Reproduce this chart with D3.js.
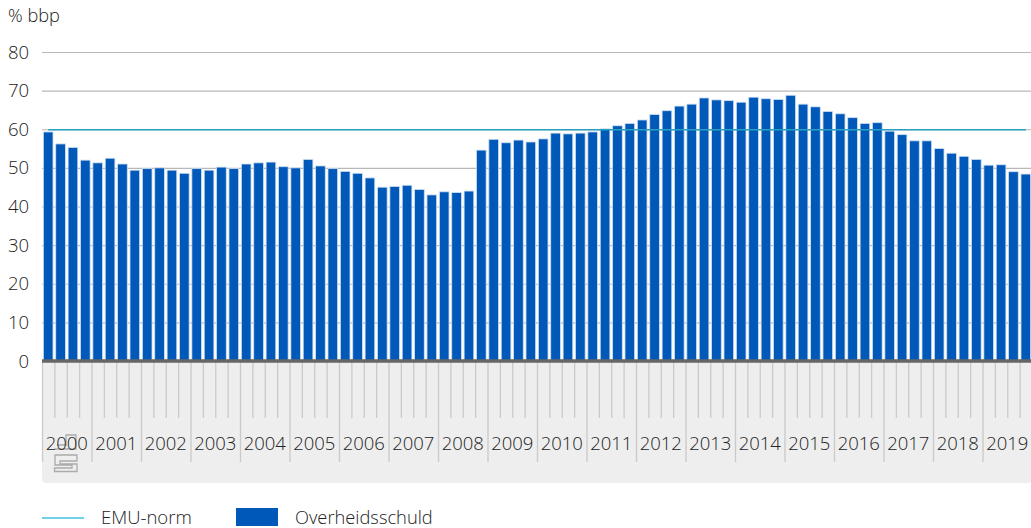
<!DOCTYPE html>
<html>
<head>
<meta charset="utf-8">
<script src="https://cdn.jsdelivr.net/npm/d3@7"></script>
<style>
  html, body { margin: 0; padding: 0; background: #fff; overflow: hidden; }
  svg { display: block; }
  text { font-family: "Open Sans", sans-serif; font-weight: 300; fill: #222; }
</style>
</head>
<body>
<svg id="chart" width="1031" height="528"></svg>
<script>
var years = ["2000","2001","2002","2003","2004","2005","2006","2007","2008","2009",
             "2010","2011","2012","2013","2014","2015","2016","2017","2018","2019"];
var quarters = ["K1","K2","K3","K4"];
var yTicks = [0,10,20,30,40,50,60,70,80];

// overheidsschuld per kwartaal, % bbp
var debt = [
  59.3,56.2,55.3,52.0,
  51.3,52.5,51.0,49.4,
  49.8,50.0,49.4,48.6,
  49.8,49.4,50.2,49.8,
  51.0,51.3,51.5,50.3,
  50.0,52.2,50.5,49.8,
  49.1,48.6,47.4,45.0,
  45.2,45.5,44.4,43.0,
  43.8,43.6,44.0,54.6,
  57.4,56.5,57.2,56.7,
  57.5,59.0,58.8,59.0,
  59.3,60.1,60.9,61.5,
  62.4,63.8,64.8,66.0,
  66.5,68.1,67.6,67.4,
  67.0,68.3,67.9,67.7,
  68.8,66.5,65.8,64.6,
  64.0,63.0,61.5,61.7,
  59.5,58.6,57.0,57.0,
  55.0,53.8,53.0,52.2,
  50.7,50.8,49.0,48.4
];
var emuNorm = 60;

var categories = years.flatMap(function(y) {
  return quarters.map(function(q) { return y + q; });
});

var svg = d3.select("#chart"),
    margin = {top: 52, right: -1, bottom: 167, left: 42},
    width = +svg.attr("width") - margin.left - margin.right,
    height = +svg.attr("height") - margin.top - margin.bottom,
    g = svg.append("g").attr("transform", "translate(" + margin.left + "," + margin.top + ")");

var x = d3.scaleBand().domain(categories).range([0, width]).paddingInner(0.22).paddingOuter(0.11);
var xYear = d3.scaleBand().domain(years).range([0, width]);
var xTick = d3.scaleLinear().domain([0, categories.length]).range([0, width]);
var y = d3.scaleLinear().domain([0, 80]).range([height, 0]);

// grijze band onder de as
g.append("path")
    .attr("fill", "#eeeeee")
    .attr("d", "M0," + height + "H" + width + "V" + (height + 118) + "Q" + width + "," + (height + 122) + " " + (width - 4) + "," + (height + 122) + "H4Q0," + (height + 122) + " 0," + (height + 118) + "Z");

// gridlines en y-as
var yAxis = g.append("g")
    .call(d3.axisLeft(y).tickValues(yTicks).tickSize(-width).tickPadding(13));
yAxis.select(".domain").remove();
yAxis.selectAll(".tick line").attr("stroke", "#b8b8b8").attr("stroke-width", 1.2);
yAxis.selectAll(".tick text").style("font-size", "18.5px").attr("dy", "0.33em");

// kwartaal- en jaarstreepjes
var minorAxis = g.append("g")
    .attr("transform", "translate(0," + height + ")")
    .call(d3.axisBottom(xTick)
      .tickValues(d3.range(0, categories.length).filter(function(d) { return d % 4 !== 0; }))
      .tickSize(57).tickFormat(""));
var majorAxis = g.append("g")
    .attr("transform", "translate(0," + height + ")")
    .call(d3.axisBottom(xTick)
      .tickValues(d3.range(0, categories.length, 4))
      .tickSize(101).tickFormat(""));
minorAxis.select(".domain").remove();
majorAxis.select(".domain").remove();
g.selectAll(".tick line").filter(function() { return this.parentNode.parentNode !== yAxis.node(); })
    .attr("stroke", "#cacaca").attr("stroke-width", 1.3);

// logo
var logo = g.append("g")
    .attr("transform", "translate(12," + (height + 74) + ")")
    .attr("fill", "none")
    .attr("stroke", "#aaaaaa")
    .attr("stroke-width", 1.3);
logo.append("path").attr("d", "M0.5,14H22V0H12V10H3");
logo.append("path").attr("d", "M0.5,20H23V26H6V29H23V36.5H0.5V33H18V30H1V20");

// jaarlabels
var yearAxis = g.append("g")
    .attr("transform", "translate(0," + height + ")")
    .call(d3.axisBottom(xYear).tickSize(0).tickPadding(76));
yearAxis.select(".domain").remove();
yearAxis.selectAll(".tick text").style("font-size", "18.5px");

// staven
g.selectAll(".bar")
    .data(debt)
  .enter().append("rect")
    .attr("class", "bar")
    .attr("x", function(d, i) { return x(categories[i]); })
    .attr("y", function(d) { return y(d); })
    .attr("width", x.bandwidth())
    .attr("height", function(d) { return height - y(d); })
    .attr("fill", "#0058b8")
    .attr("stroke", "#cfdff3")
    .attr("stroke-width", 0.8);

// nullijn
g.append("line")
    .attr("x1", 0).attr("x2", width)
    .attr("y1", y(0)).attr("y2", y(0))
    .attr("stroke", "#666666")
    .attr("stroke-width", 3.5);

// EMU-norm
g.append("line")
    .attr("x1", x(categories[0]) + x.bandwidth() / 2)
    .attr("x2", x(categories[categories.length - 1]) + x.bandwidth() / 2)
    .attr("y1", y(emuNorm) + 0.5).attr("y2", y(emuNorm) + 0.5)
    .attr("stroke", "#2a9fc0")
    .attr("stroke-width", 1.6);

// titel
svg.append("text").attr("x", 8).attr("y", 22).style("font-size", "18.2px").text("% bbp");

// legenda
var legend = svg.append("g").attr("transform", "translate(0,517)");
legend.append("line").attr("x1", 42).attr("x2", 84).attr("y1", 1).attr("y2", 1)
    .attr("stroke", "#41c0e0").attr("stroke-width", 1.6);
legend.append("text").attr("x", 101).attr("y", 7).style("font-size", "18.5px").text("EMU-norm");
legend.append("rect").attr("x", 236).attr("y", -9).attr("width", 42).attr("height", 18).attr("fill", "#0058b8");
legend.append("text").attr("x", 295).attr("y", 7).style("font-size", "18.3px").text("Overheidsschuld");
</script>
</body>
</html>
